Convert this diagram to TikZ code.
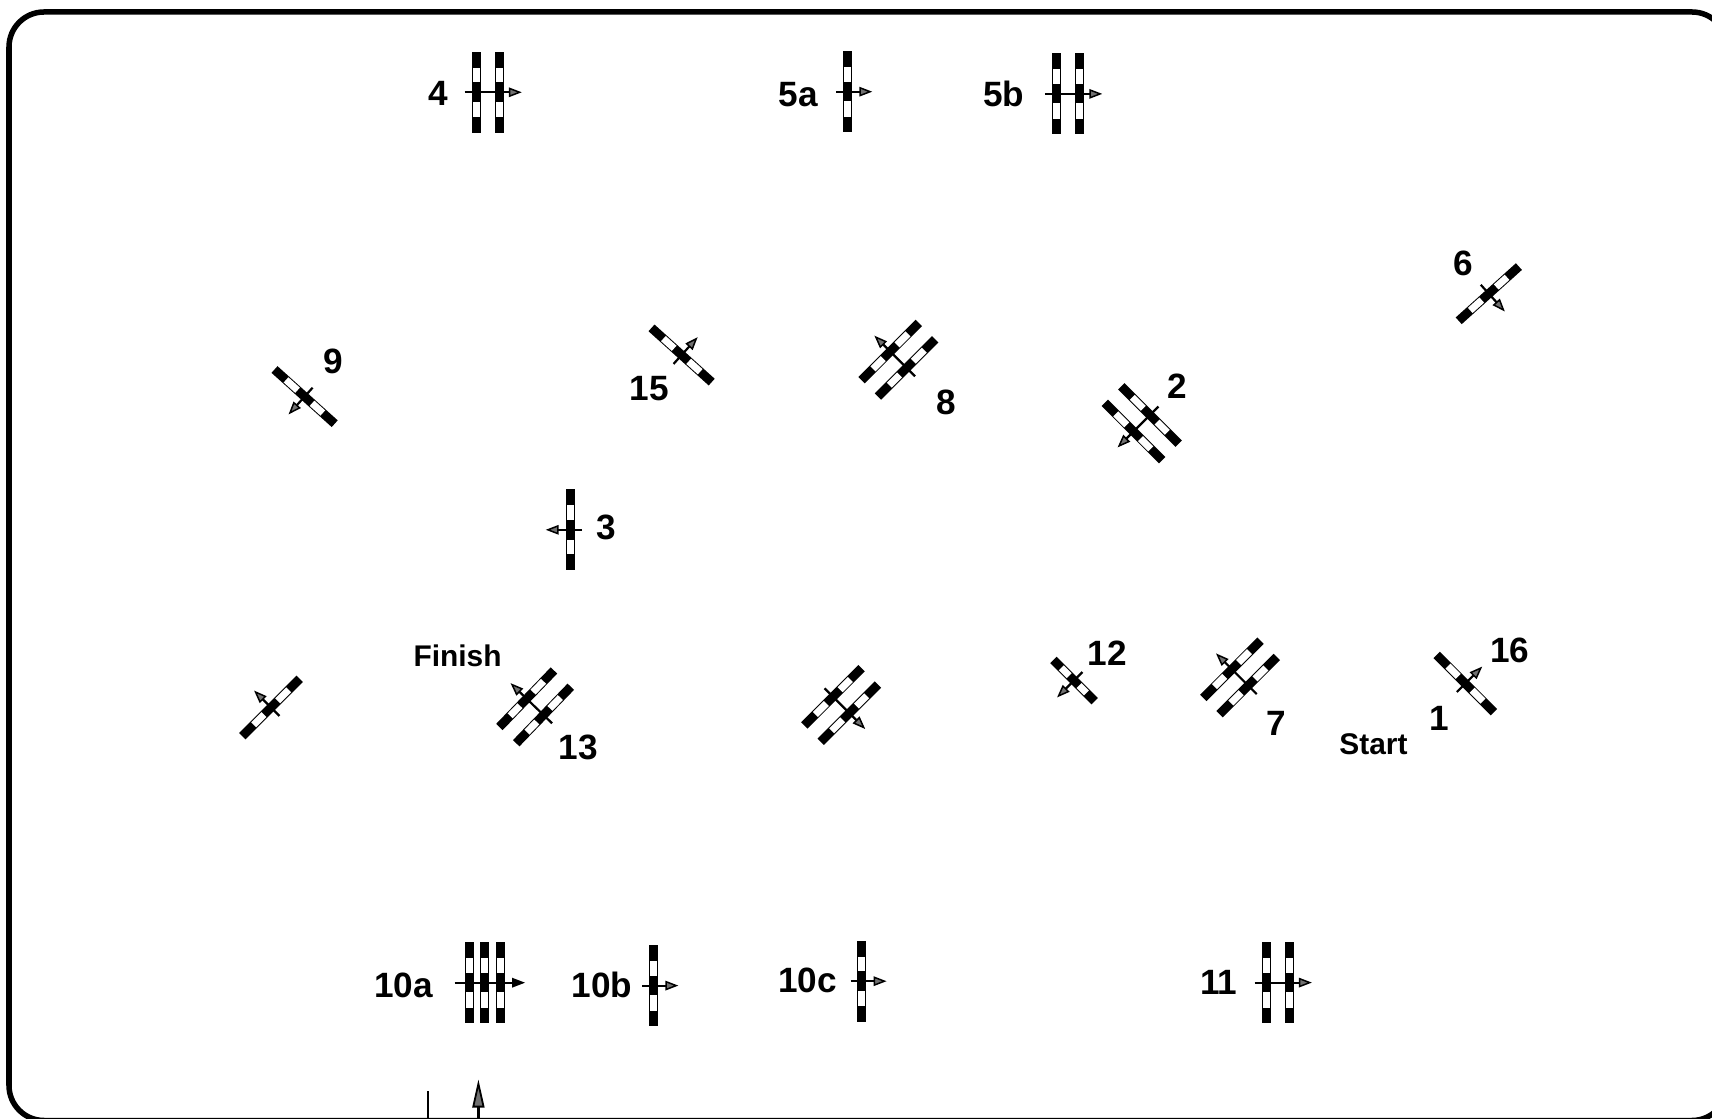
\documentclass[tikz,border=0pt]{standalone}
\usepackage{fontspec}
\setmainfont{Liberation Sans}
\usetikzlibrary{arrows.meta}
\definecolor{tipgrey}{HTML}{707070}

\begin{document}
\begin{tikzpicture}[x=.01cm,y=-.01cm,
 every node/.style={inner sep=0pt},
 num/.style={font=\fontsize{10}{12}\selectfont\bfseries},
 word/.style={font=\fontsize{8.5}{10}\selectfont\bfseries},
 frame/.style={draw=black,line width=.055cm,rounded corners=.35cm},
 stem/.style={draw=black,line width=.022cm,-{Triangle[length=.13cm,width=.095cm,fill=#1,line width=.015cm]}},
 bar/.style={fill=black},
 pane/.style={fill=white}]
\useasboundingbox (0,0) rectangle (1712,1119);
\draw[frame] (9,12) rectangle (1727,1120.5);
% x/y/direction/bars/spacing/bar scale/tail/reach/tip
\foreach \gx/\gy/\gang/\gn/\gsp/\gs/\gback/\gfwd/\gtip in {
 476.7/92.3/0/2/22.6/1/12/22.5/tipgrey,
 847.3/91.7/0/1/0/1/11/25/tipgrey,
 1056.9/93.9/0/2/22.9/1/12/22.5/tipgrey,
 1488.8/293.7/-48/1/0/1/12/24/tipgrey,
 304.6/396.6/-132/1/0/1/12/24/tipgrey,
 681.6/355/48/1/0/1/12/24/tipgrey,
 906.6/367.9/135/2/23.1/1/12/22.5/tipgrey,
 1150/415/-135/2/23.4/1/12/22.5/tipgrey,
 570.2/529.8/180/1/0/1/12/24.5/tipgrey,
 271/707.5/135/1/0/1/12/24/tipgrey,
 543.5/715/136/2/23.4/.97/12/22.5/tipgrey,
 833/696.8/-45/2/23.1/1/12/22.5/tipgrey,
 1074/680.5/-135/1/0/.72/12/24/tipgrey,
 1248.2/685.6/135/2/23.1/1/12/22.5/tipgrey,
 1465.3/683.5/45/1/0/1/12/24/tipgrey,
 469.7/982.7/0/3/15.2/1/15/25/black,
 653.4/985.6/0/1/0/1/11/25/tipgrey,
 861.6/981.2/0/1/0/1/11/25/tipgrey,
 1266.5/982.6/0/2/22.9/1/12/22.5/tipgrey}{
 \begin{scope}[shift={(\gx,\gy)},rotate=\gang]
 \foreach \i in {1,...,\gn}{
  \begin{scope}[shift={({(\i-1)*\gsp},0)}]
  \fill[bar] (-4.5,{-40.5*\gs}) rectangle (4.5,{40.5*\gs});
  \path[pane] (-3.5,{-24.5*\gs}) rectangle (3.5,{-10*\gs});
  \path[pane] (-3.5,{9.5*\gs}) rectangle (3.5,{25*\gs});
  \end{scope}}
 \draw[stem=\gtip] (-\gback,0) -- ({(\gn-1)*\gsp+\gfwd},0);
 \end{scope}}
\node[num] (lab4) at (438.4,93.6) {4};
\node[num] (lab5a) at (798.4,94.4) {5a};
\node[num] (lab5b) at (1003.8,93.9) {5b};
\node[num] (lab6) at (1463.2,263) {6};
\node[num] (lab9) at (333,361.4) {9};
\node[num] (lab15) at (649,388.7) {15};
\node[num] (lab8) at (945.8,402.4) {8};
\node[num] (lab2) at (1177,386) {2};
\node[num] (lab3) at (606,527.3) {3};
\node[word] (finish) at (457.5,655.6) {Finish};
\node[num] (lab13) at (578,747.4) {13};
\node[num] (lab12) at (1107,652.9) {12};
\node[num] (lab7) at (1276.6,723.4) {7};
\node[num] (lab16) at (1509.6,650.2) {16};
\node[num] (lab1) at (1439,718.4) {1};
\node[word] (start) at (1373.5,744.2) {Start};
\node[num] (lab10a) at (403.6,985.4) {10a};
\node[num] (lab10b) at (602,984.8) {10b};
\node[num] (lab10c) at (807.4,980.4) {10c};
\node[num] (lab11) at (1218.8,982.6) {11};
% entry marks at the foot
\coordinate (marktop) at (427.7,1090.7);
\coordinate (markfoot) at (427.7,1125);
\coordinate (entrytip) at (478.4,1079.5);
\coordinate (entryfoot) at (478.4,1125);
\draw[line width=.022cm] (markfoot) -- (marktop);
\draw[draw=black,line width=.022cm,-{Triangle[length=.28cm,width=.12cm,fill=tipgrey,line width=.018cm]}] (entryfoot) -- (entrytip);
\end{tikzpicture}
\end{document}
